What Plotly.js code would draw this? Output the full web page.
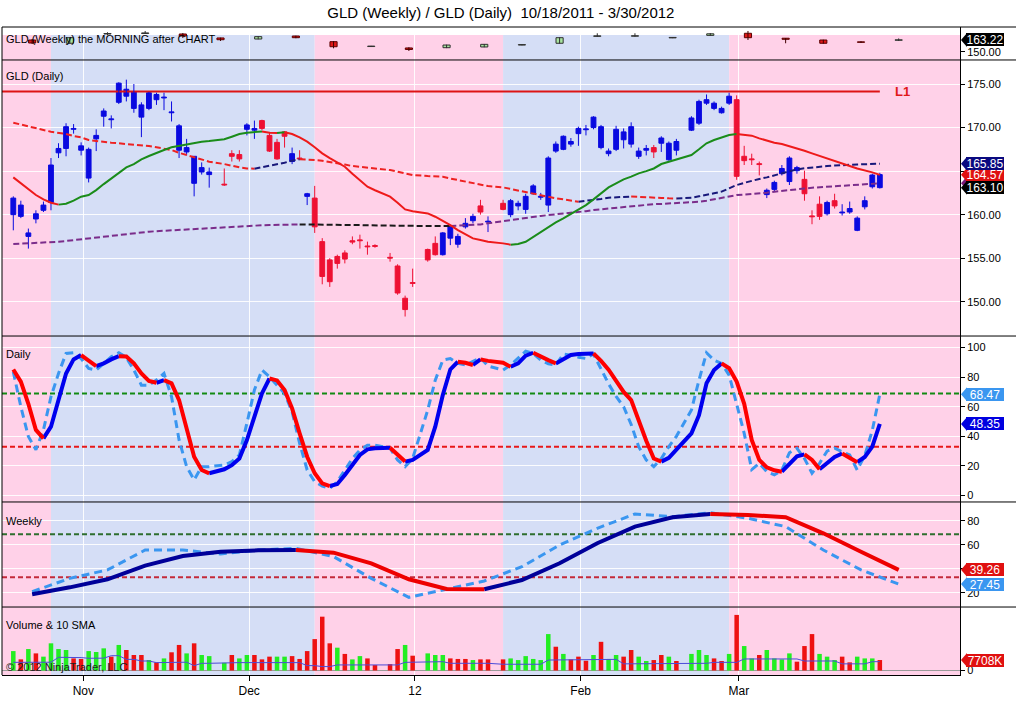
<!DOCTYPE html>
<html>
<head>
<meta charset="utf-8">
<script src="https://cdn.plot.ly/plotly-3.0.1.min.js"></script>
<style>
    html, body { margin: 0; padding: 0; background: #ffffff; }
    #chart { width: 1016px; height: 720px; }
</style>
</head>
<body>
<div id="chart"></div>
<script>
// ==== DATA ==================================================================

// Trading days shown on the chart, by month (holidays are left out).
const oct2011 = [18, 19, 20, 21, 24, 25, 26, 27, 28, 31];
const nov2011 = [1, 2, 3, 4, 7, 8, 9, 10, 11, 14, 15, 16, 17, 18, 21, 22, 23, 25, 28, 29, 30];
const dec2011 = [1, 2, 5, 6, 7, 8, 9, 12, 13, 14, 15, 16, 19, 20, 21, 22, 23, 27, 28, 29, 30];
const jan2012 = [3, 4, 5, 6, 9, 10, 11, 12, 13, 17, 18, 19, 20, 23, 24, 25, 26, 27, 30, 31];
const feb2012 = [1, 2, 3, 6, 7, 8, 9, 10, 13, 14, 15, 16, 17, 21, 22, 23, 24, 27, 28, 29];
const mar2012 = [1, 2, 5, 6, 7, 8, 9, 12, 13, 14, 15, 16, 19, 20, 21, 22, 23, 26, 27];

// Daily GLD candles (one line per month).
const open = [
    160.0, 159.8, 157.5, 159.5, 160.5, 161.4, 167.1, 167.6, 169.8, 167.4,
    164.2, 168.7, 171.3, 170.9, 172.9, 173.6, 172.2, 171.2, 172.2, 173.2, 173.4, 171.7, 167.4, 167.2, 163.6, 164.9, 164.6, 163.5, 167.0, 166.9, 169.8,
    169.7, 170.8, 169.1, 168.3, 169.5, 166.1, 166.5, 162.1, 161.9, 156.9, 154.8, 155.2, 155.6, 157.0, 157.1, 156.35, 156.4, 155.1, 154.1, 150.4, 152.15,
    156.0, 156.7, 155.4, 157.3, 156.6, 158.6, 159.3, 161.0, 159.15, 161.3, 160.0, 161.0, 160.6, 162.4, 162.0, 161.1, 167.3, 167.5, 168.1, 169.3,
    169.75, 170.0, 167.7, 167.0, 167.5, 168.6, 168.1, 166.7, 167.4, 167.7, 168.2, 166.3, 167.4, 169.7, 170.5, 172.8, 172.2, 171.7, 172.8, 173.2,
    166.7, 166.4, 165.8, 162.3, 162.9, 164.7, 163.8, 165.05, 164.05, 159.8, 161.2, 160.1, 161.6, 160.2, 160.3, 158.2, 160.9, 163.2, 163.1,
];
const high = [
    162.1, 161.6, 158.4, 160.5, 161.5, 166.5, 168.2, 170.5, 170.4, 168.3,
    167.7, 169.8, 172.2, 171.4, 175.2, 175.5, 175.0, 172.9, 174.1, 174.0, 174.0, 173.0, 170.4, 168.7, 166.7, 166.0, 165.4, 165.3, 167.4, 167.4, 170.5,
    170.8, 170.9, 169.5, 168.7, 169.6, 167.7, 167.4, 162.5, 163.3, 157.3, 155.0, 155.4, 155.9, 157.5, 157.7, 156.9, 156.6, 155.6, 154.3, 150.7, 153.8,
    156.1, 157.5, 158.0, 158.8, 157.8, 159.6, 160.1, 161.7, 159.8, 161.7, 161.8, 161.6, 162.4, 163.5, 162.5, 166.7, 168.4, 169.1, 168.8, 170.1,
    170.3, 171.3, 170.3, 167.6, 170.2, 169.9, 170.6, 167.7, 168.0, 168.0, 169.0, 168.4, 168.7, 171.3, 173.2, 173.8, 173.0, 172.4, 174.0, 173.7,
    167.9, 167.0, 166.1, 163.0, 163.9, 165.7, 166.7, 165.6, 165.05, 160.5, 162.1, 161.6, 162.4, 161.2, 161.5, 159.8, 162.1, 164.7, 164.8,
];
const low = [
    158.2, 159.6, 156.1, 159.0, 160.3, 160.5, 166.5, 166.7, 169.3, 166.8,
    163.7, 167.3, 170.1, 169.9, 172.7, 173.0, 171.7, 168.9, 172.0, 172.6, 172.0, 170.7, 166.5, 166.8, 162.1, 164.6, 163.1, 163.3, 166.1, 166.1, 169.1,
    168.7, 169.7, 167.2, 166.3, 167.7, 165.8, 166.3, 161.1, 157.9, 152.0, 151.7, 153.8, 154.4, 156.6, 156.1, 155.4, 156.2, 154.6, 150.8, 148.3, 151.7,
    154.6, 155.3, 155.3, 156.5, 156.2, 158.4, 159.0, 160.0, 158.0, 160.5, 159.7, 160.5, 160.1, 162.3, 161.7, 160.3, 167.1, 167.4, 167.8, 167.9,
    169.1, 169.8, 167.5, 166.7, 167.3, 167.6, 167.7, 166.4, 166.8, 166.5, 167.2, 166.2, 166.8, 169.6, 170.3, 172.6, 172.0, 171.6, 172.6, 164.0,
    165.7, 165.7, 164.5, 161.9, 162.6, 164.5, 163.4, 164.7, 161.6, 158.9, 159.4, 159.9, 160.7, 159.9, 160.1, 158.1, 160.6, 163.0, 163.0,
];
const close = [
    161.9, 161.1, 157.9, 160.1, 161.1, 165.7, 167.6, 170.1, 169.9, 167.9,
    167.5, 169.1, 171.9, 171.0, 175.1, 174.4, 174.1, 172.6, 174.0, 173.8, 173.5, 171.8, 170.2, 167.7, 166.7, 165.4, 164.9, 163.4, 166.7, 166.4, 170.3,
    169.9, 169.9, 167.3, 166.4, 169.0, 167.0, 166.4, 162.4, 158.6, 152.9, 152.3, 154.4, 154.9, 156.85, 157.0, 156.3, 156.35, 155.0, 151.0, 149.1, 152.1,
    154.8, 155.4, 157.9, 158.6, 157.5, 159.0, 159.8, 160.3, 159.2, 160.6, 161.6, 161.3, 162.1, 163.3, 162.1, 166.5, 168.1, 169.0, 168.4, 169.9,
    169.8, 171.2, 170.1, 167.3, 169.8, 169.5, 170.1, 167.3, 167.6, 167.2, 168.8, 168.2, 168.4, 171.1, 173.0, 173.2, 172.8, 172.2, 173.6, 164.4,
    166.2, 166.3, 165.75, 162.8, 163.7, 165.3, 166.5, 165.4, 162.4, 159.75, 159.8, 161.4, 161.0, 160.25, 160.7, 159.6, 161.6, 164.55, 164.6,
];

// Moving averages on the daily panel.
const maFast = [
    164.28, 163.6, 163.0, 162.25, 161.75, 161.37, 161.15, 161.25, 161.6, 162.06,
    162.25, 162.82, 163.51, 164.17, 164.74, 165.43, 165.81, 166.35, 166.73, 167.1, 167.42, 167.73, 167.88, 168.1, 168.26, 168.38, 168.45, 168.65, 168.95, 169.26, 169.41,
    169.49, 169.55, 169.41, 169.38, 169.45, 169.26, 168.87, 168.38, 167.73, 167.04, 166.5, 166.0, 165.5, 164.7, 164.0, 163.2, 162.8, 162.06, 161.37, 160.6, 160.4,
    160.14, 159.76, 159.3, 158.8, 158.23, 157.77, 157.27, 157.08, 156.89, 156.7, 156.55, 156.62, 156.89, 157.46, 158.04, 158.61, 159.1, 159.57, 160.07, 160.6,
    161.1, 161.75, 162.44, 163.13, 163.59, 164.05, 164.36, 164.74, 165.0, 165.3, 165.81, 166.08, 166.35, 166.84, 167.5, 168.19, 168.57, 168.87, 169.14, 169.26,
    169.14, 169.07, 168.76, 168.49, 168.26, 168.11, 167.88, 167.6, 167.34, 167.04, 166.73, 166.46, 166.2, 165.89, 165.58, 165.3, 165.1, 164.85, 164.57,
];
const maMid = [
    170.56, 170.37, 170.18, 169.91, 169.72, 169.52, 169.41, 169.26, 169.03, 168.87,
    168.57, 168.45, 168.38, 168.26, 168.19, 168.11, 168.05, 168.0, 167.88, 167.73, 167.6, 167.42, 167.1, 166.84, 166.58, 166.27, 166.08, 165.81, 165.58, 165.43, 165.3,
    165.28, 165.43, 165.58, 165.81, 165.96, 166.2, 166.35, 166.33, 166.27, 166.2, 166.08, 165.89, 165.75, 165.58, 165.5, 165.43, 165.3, 165.12, 164.93, 164.74, 164.55,
    164.43, 164.4, 164.36, 164.15, 163.97, 163.82, 163.67, 163.48, 163.28, 163.13, 162.95, 162.75, 162.56, 162.37, 162.18, 161.98, 161.87, 161.75, 161.62, 161.49,
    161.58, 161.68, 161.8, 161.94, 162.0, 162.06, 162.08, 162.06, 161.98, 161.96, 161.92, 161.87, 161.85, 161.94, 162.1, 162.25, 162.45, 162.64, 163.0, 163.4,
    163.65, 163.9, 164.1, 164.28, 164.5, 164.74, 164.97, 165.2, 165.32, 165.43, 165.5, 165.58, 165.64, 165.7, 165.73, 165.76, 165.79, 165.82, 165.85,
];
const maSlow = [
    156.62, 156.66, 156.7, 156.74, 156.77, 156.83, 156.89, 156.98, 157.08, 157.17,
    157.27, 157.36, 157.46, 157.56, 157.66, 157.75, 157.85, 157.95, 158.04, 158.1, 158.15, 158.23, 158.31, 158.36, 158.42, 158.46, 158.5, 158.61, 158.65, 158.69, 158.73,
    158.77, 158.78, 158.8, 158.82, 158.84, 158.86, 158.88, 158.88, 158.88, 158.88, 158.87, 158.86, 158.84, 158.82, 158.8, 158.78, 158.76, 158.72, 158.7, 158.69, 158.69,
    158.69, 158.69, 158.69, 158.69, 158.73, 158.77, 158.8, 158.88, 159.0, 159.26, 159.38, 159.5, 159.63, 159.76, 159.85, 159.95, 160.04, 160.14, 160.2, 160.26,
    160.4, 160.53, 160.62, 160.72, 160.82, 160.91, 161.0, 161.1, 161.18, 161.2, 161.23, 161.27, 161.32, 161.37, 161.48, 161.6, 161.77, 161.94, 162.1, 162.25,
    162.31, 162.37, 162.45, 162.52, 162.64, 162.75, 162.82, 162.9, 163.0, 163.09, 163.15, 163.21, 163.27, 163.32, 163.38, 163.44, 163.5, 163.55, 163.6,
];
const levelL1 = 174.14;

// Daily stochastics: slow line (solid) and fast line (dashed).
const stochSlow = [
    85.2, 77, 62, 44.3, 38.6, 46.5, 64.5, 82.5, 92, 94.9,
    91, 87.5, 89.3, 92, 94.2, 94, 89.3, 82.5, 77.5, 76.2, 78, 75.8, 64.5, 44.3, 26.2, 17.2, 15, 17.7, 20.5, 25, 37.5,
    53.2, 69, 79.1, 77.8, 71.3, 58.9, 42, 26.2, 15, 8.2, 6.4, 7.7, 13.9, 20.6, 27.4, 31.2, 31.9, 32.2, 27.4, 22.9, 24,
    30.8, 46.5, 67.9, 85.2, 90.4, 89.7, 88.2, 92, 91, 89.7, 87, 89.3, 94.5, 96.5, 93.8, 91.5, 89.3, 92, 95.0, 95.6,
    95.8, 96, 91, 85, 77, 70, 64.5, 50, 37, 25, 22.9, 25.5, 31, 42, 54.3, 75.8, 84.8, 89.3, 86, 77,
    62, 37.5, 24, 19, 17, 16.1, 21.5, 26.5, 27.8, 24, 17.7, 21.7, 26, 28.4, 25.5, 22.5, 26, 33, 48.35,
];
const stochFast = [
    83.6, 60, 39.9, 30.9, 44.3, 66.8, 82.5, 96, 96.5, 92.6,
    85.9, 84.8, 89.3, 93.8, 96.5, 93.3, 84.8, 74.6, 74.6, 78, 82.5, 66.8, 37.5, 19.5, 10.5, 19.5, 19.5, 20.6, 22.9, 27.4, 48.8,
    71.3, 84.8, 80.3, 74.6, 69, 56.6, 35.3, 17.2, 9.3, 6.4, 4.9, 9.3, 17.2, 25, 30.6, 34, 34, 31.9, 24, 19.5, 25,
    57.8, 78, 91.5, 92.6, 89.3, 88.2, 90.4, 93, 87.5, 84.8, 88.2, 93, 97.5, 96, 91.5, 89, 88.2, 95.6, 94.9, 93.5,
    92.6, 95.6, 86, 75.5, 67, 60, 48, 33, 24, 19.5, 25, 33, 40, 57.8, 78, 96.5, 91.5, 89.3, 81.4, 62.2,
    42, 17.5, 21.7, 16.1, 13.9, 17.2, 28.9, 31.9, 25, 15, 21.7, 30, 32, 29.6, 27.4, 17.2, 27, 44, 68.47,
];
const stochUpper = 69;
const stochLower = 33;

// Daily volume in millions of shares, up/down flag, and its 10 SMA.
const volume = [
    14.3, 8.2, 15.8, 12.6, 10.2, 20.0, 15.8, 15.1, 8.9, 8.5,
    14.3, 13.6, 16.3, 10.2, 18.8, 15.1, 11.4, 11.4, 7.7, 6.0, 8.9, 13.4, 18.8, 12.6, 20.0, 11.4, 10.6, 5.7, 11.4, 8.9, 11.4,
    11.4, 8.2, 10.2, 10.2, 10.2, 10.6, 8.5, 14.3, 23.1, 39.6, 20.0, 16.8, 12.2, 8.2, 10.6, 8.9, 4.0, 4.7, 15.8, 18.8, 10.9,
    12.6, 11.4, 11.4, 8.9, 8.5, 8.5, 7.7, 8.2, 8.2, 8.2, 8.9, 7.7, 10.6, 8.5, 7.7, 26.8, 17.5, 12.2, 8.2, 10.2,
    7.2, 11.4, 21.1, 8.5, 11.4, 10.2, 15.1, 10.2, 7.0, 7.7, 11.4, 10.2, 7.0, 12.2, 15.1, 11.4, 8.9, 7.0, 12.2, 40.9,
    18.0, 8.9, 11.4, 15.1, 8.9, 8.2, 12.6, 6.5, 18.0, 26.8, 12.2, 10.2, 7.7, 10.2, 6.0, 10.2, 8.9, 8.9, 7.708,
];
const volumeUp = [
    1, 0, 1, 0, 1, 1, 1, 1, 0, 0,
    1, 1, 1, 0, 1, 0, 0, 0, 1, 0, 1, 0, 0, 1, 0, 1, 1, 1, 0, 1, 1,
    0, 0, 0, 1, 1, 0, 0, 0, 0, 0, 0, 1, 0, 1, 1, 0, 0, 0, 0, 1, 0,
    1, 1, 1, 0, 0, 0, 1, 0, 0, 0, 1, 1, 1, 1, 1, 1, 0, 1, 0, 0,
    0, 1, 0, 1, 1, 0, 0, 1, 1, 0, 0, 1, 0, 1, 1, 1, 0, 0, 1, 0,
    1, 1, 0, 1, 1, 1, 1, 0, 0, 0, 1, 1, 1, 0, 0, 1, 1, 1, 0,
];
const volumeSma = [
    6.0, 6.0, 6.0, 6.0, 6.0, 6.1, 9.7, 9.7, 9.6, 9.5,
    9.0, 9.0, 9.1, 10.9, 10.9, 8.2, 8.2, 7.0, 7.0, 5.8, 5.8, 5.8, 6.0, 6.1, 3.6, 5.3, 5.3, 5.8, 5.8, 5.8, 5.8,
    5.8, 5.8, 5.8, 5.8, 5.8, 5.8, 5.8, 3.6, 3.6, 2.9, 2.9, 4.1, 4.1, 4.1, 4.1, 4.1, 4.1, 4.1, 4.1, 6.0, 6.0,
    6.0, 6.0, 6.5, 5.3, 5.3, 5.3, 5.3, 5.3, 5.3, 4.6, 4.6, 4.6, 4.6, 4.6, 4.6, 7.7, 7.7, 8.2, 8.2, 8.2,
    8.2, 8.2, 8.2, 8.2, 8.2, 4.9, 4.9, 4.9, 4.9, 4.9, 4.9, 4.9, 4.9, 5.3, 5.3, 5.3, 6.0, 6.0, 6.0, 6.0,
    8.5, 8.5, 8.5, 8.5, 8.5, 8.5, 8.5, 8.5, 7.0, 7.0, 7.0, 7.0, 7.0, 4.9, 4.9, 4.9, 4.9, 6.5, 6.5,
];

// Weekly GLD candles and weekly stochastics, one value per week (week ending Friday).
const weekEnds = [
    "2011-10-21", "2011-10-28", "2011-11-04", "2011-11-11", "2011-11-18", "2011-11-25",
    "2011-12-02", "2011-12-09", "2011-12-16", "2011-12-23", "2011-12-30", "2012-01-06",
    "2012-01-13", "2012-01-20", "2012-01-27", "2012-02-03", "2012-02-10", "2012-02-17",
    "2012-02-24", "2012-03-02", "2012-03-09", "2012-03-16", "2012-03-23", "2012-03-30",
];
const weekOpen = [163.2, 159.5, 170.0, 170.5, 170.0, 165.5, 164.3, 167.7, 161.3, 155.8, 154.2, 154.5, 155.3, 157.5, 159.5, 167.3, 167.5, 165.6, 168.4, 170.8, 165.2, 163.2, 160.8, 162.9];
const weekHigh = [164.3, 166.5, 172.0, 173.4, 171.1, 165.8, 167.5, 168.0, 162.0, 156.5, 155.0, 157.9, 158.7, 158.0, 166.2, 170.8, 170.8, 166.5, 171.0, 173.4, 165.3, 163.5, 161.8, 165.0];
const weekLow = [158.7, 159.0, 168.5, 170.0, 165.5, 162.1, 164.0, 165.2, 153.8, 155.3, 150.8, 154.0, 155.0, 157.2, 159.2, 166.8, 167.0, 165.3, 168.0, 163.2, 159.5, 159.0, 159.8, 162.1];
const weekClose = [159.8, 165.8, 170.5, 171.2, 167.7, 163.5, 167.0, 165.8, 155.6, 155.9, 152.5, 157.5, 158.3, 157.7, 165.8, 167.9, 168.0, 166.0, 170.2, 165.8, 164.0, 159.5, 160.6, 163.22];
const weekStochSlow = [18.9, 24.7, 31.4, 42.8, 50.8, 54.4, 55.5, 55.9, 53.6, 44.7, 31.4, 23.4, 23.1, 30.8, 44.7, 61.4, 75.3, 83.1, 85.8, 85.0, 83.1, 69.7, 54.4, 39.26];
const weekStochFast = [21.1, 32.2, 39.2, 55.8, 55.8, 52.5, 55.8, 57.2, 50.3, 32.2, 16.4, 23.1, 30.0, 41.9, 60.0, 73.9, 85.8, 83.6, 86.9, 82.2, 75.3, 55.8, 39.2, 27.45];

// Month labels: NinjaTrader puts them right after the month's last bar.
const monthEnds = ["2011-10-31", "2011-11-30", "2011-12-30", "2012-01-31", "2012-02-29"];
const monthLabels = ["Nov", "Dec", "12", "Feb", "Mar"];

// Last-value markers on the price scale.
const weeklyLast = [163.22];
const dailyLast = [163.60, 164.57, 165.85, 163.10];
const stochLast = [68.47, 48.35];
const weekStochLast = [39.26, 27.45];
const volumeLast = [7.708];

// ==== HELPERS ===============================================================

const FONT = "Liberation Sans, Arial, sans-serif";

function monthDates(year, month, list) {
    const mm = String(month).padStart(2, "0");
    return list.map((d) => `${year}-${mm}-${String(d).padStart(2, "0")}`);
}

// Number of weekdays since 10/18/2011: the chart keeps an empty slot for holidays.
const ORIGIN = Date.UTC(2011, 9, 18);
function weekdayIndex(dateStr) {
    const [y, m, d] = dateStr.split("-").map(Number);
    const target = Date.UTC(y, m - 1, d);
    let idx = 0;
    for (let t = ORIGIN + 86400000; t <= target; t += 86400000) {
        const wd = new Date(t).getUTCDay();
        if (wd !== 0 && wd !== 6) idx++;
    }
    return idx;
}

// Candles as a wick trace plus a body bar trace for up and for down bars.
function candleTraces(xs, o, h, l, c, yaxis, bodyWidth, up, down) {
    const traces = [];
    for (const [style, isUp] of [[up, true], [down, false]]) {
        const bx = [], base = [], size = [], wx = [], wy = [];
        for (let i = 0; i < xs.length; i++) {
            if ((c[i] > o[i]) !== isUp) continue;
            bx.push(xs[i]);
            base.push(Math.min(o[i], c[i]));
            size.push(Math.max(Math.abs(c[i] - o[i]), style.minBody));
            wx.push(xs[i], xs[i], null);
            wy.push(l[i], h[i], null);
        }
        traces.push({
            type: "scatter", mode: "lines", x: wx, y: wy, yaxis: yaxis,
            line: { color: style.wick, width: 1 }, hoverinfo: "skip",
        });
        traces.push({
            type: "bar", x: bx, y: size, base: base, width: bodyWidth, yaxis: yaxis,
            marker: { color: style.fill, line: { color: style.edge, width: 1 } },
            hoverinfo: "skip",
        });
    }
    return traces;
}

// A line whose colour follows its slope: one colour rising, another falling.
function slopeLine(xs, ys, yaxis, upColor, downColor, width, dash) {
    const runs = { up: { x: [], y: [] }, down: { x: [], y: [] } };
    let prev = null;
    for (let i = 1; i < ys.length; i++) {
        const dir = ys[i] > ys[i - 1] ? "up" : "down";
        const run = runs[dir];
        if (dir !== prev) {
            if (run.x.length) { run.x.push(null); run.y.push(null); }
            run.x.push(xs[i - 1]); run.y.push(ys[i - 1]);
        }
        run.x.push(xs[i]); run.y.push(ys[i]);
        prev = dir;
    }
    return ["up", "down"].map((dir) => ({
        type: "scatter", mode: "lines", x: runs[dir].x, y: runs[dir].y, yaxis: yaxis,
        line: { color: dir === "up" ? upColor : downColor, width: width, dash: dash || "solid" },
        connectgaps: false, hoverinfo: "skip",
    }));
}

// ==== BUILD ================================================================

const days = [
    ...monthDates(2011, 10, oct2011), ...monthDates(2011, 11, nov2011),
    ...monthDates(2011, 12, dec2011), ...monthDates(2012, 1, jan2012),
    ...monthDates(2012, 2, feb2012), ...monthDates(2012, 3, mar2012),
];
const xs = days.map(weekdayIndex);
const weekX = weekEnds.map((d) => weekdayIndex(d) - 0.5);
const xRange = [-1.5, 125.64];
const lastX = xs[xs.length - 1];

const traces = [];

// Weekly strip.
traces.push(...candleTraces(weekX, weekOpen, weekHigh, weekLow, weekClose, "y", 0.95,
    { fill: "#a8e4a0", edge: "#303030", wick: "#303030", minBody: 0.5 },
    { fill: "#e01818", edge: "#5a0000", wick: "#400000", minBody: 0.5 }));

// Daily price panel.
traces.push({
    type: "scatter", mode: "lines", x: [xRange[0], lastX], y: [levelL1, levelL1], yaxis: "y2",
    line: { color: "#dd1414", width: 2 }, hoverinfo: "skip",
});
traces.push(...candleTraces(xs, open, high, low, close, "y2", 0.64,
    { fill: "#0a0ae0", edge: "#0a0ae0", wick: "#0a0ae0", minBody: 0.1 },
    { fill: "#ee1133", edge: "#ee1133", wick: "#ee1133", minBody: 0.1 }));
traces.push(...slopeLine(xs, maSlow, "y2", "#7b2d8b", "#1a1a1a", 2, "6px,3px"));
traces.push(...slopeLine(xs, maMid, "y2", "#18187a", "#ee2222", 2, "6px,3px"));
traces.push(...slopeLine(xs, maFast, "y2", "#1a8c1a", "#ee1a1a", 2));

// Daily stochastics.
traces.push({
    type: "scatter", mode: "lines", x: xRange, y: [stochUpper, stochUpper], yaxis: "y3",
    line: { color: "#128a12", width: 2, dash: "5px,3px" }, hoverinfo: "skip",
});
traces.push({
    type: "scatter", mode: "lines", x: xRange, y: [stochLower, stochLower], yaxis: "y3",
    line: { color: "#e81818", width: 2, dash: "5px,3px" }, hoverinfo: "skip",
});
traces.push({
    type: "scatter", mode: "lines", x: xs, y: stochFast, yaxis: "y3",
    line: { color: "#3a96f0", width: 3, dash: "8px,5px" }, hoverinfo: "skip",
});
traces.push(...slopeLine(xs, stochSlow, "y3", "#0000ee", "#ff0000", 4));

// Weekly stochastics.
traces.push({
    type: "scatter", mode: "lines", x: xRange, y: [stochUpper, stochUpper], yaxis: "y4",
    line: { color: "#2e6e2e", width: 2, dash: "5px,3px" }, hoverinfo: "skip",
});
traces.push({
    type: "scatter", mode: "lines", x: xRange, y: [stochLower, stochLower], yaxis: "y4",
    line: { color: "#c42a3a", width: 2, dash: "5px,3px" }, hoverinfo: "skip",
});
traces.push({
    type: "scatter", mode: "lines", x: weekX, y: weekStochFast, yaxis: "y4",
    line: { color: "#3a96f0", width: 3, dash: "8px,5px" }, hoverinfo: "skip",
});
traces.push(...slopeLine(weekX, weekStochSlow, "y4", "#000099", "#ee0000", 4));

// Volume and its SMA.
for (const up of [1, 0]) {
    const idx = volume.map((_, i) => i).filter((i) => volumeUp[i] === up);
    traces.push({
        type: "bar", x: idx.map((i) => xs[i]), y: idx.map((i) => volume[i]), width: 0.6,
        yaxis: "y5", marker: { color: up ? "#22ee22" : "#ee1111", line: { width: 0 } },
        hoverinfo: "skip",
    });
}
traces.push({
    type: "scatter", mode: "lines", x: xs, y: volumeSma, yaxis: "y5",
    line: { color: "#4b4bd8", width: 1 }, hoverinfo: "skip",
});

// ==== SHAPES ================================================================

// Background: blue while the weekly slow stochastic rises, pink otherwise.
const shapes = [];
const shadeTop = (675 - 35) / 648;
const spans = [];
weekX.forEach((wx, k) => {
    const rising = k > 0 && weekStochSlow[k] > weekStochSlow[k - 1];
    const x0 = k === 0 ? xRange[0] : wx - 2.5;
    const x1 = k === weekX.length - 1 ? xRange[1] : wx + 2.5;
    const last = spans[spans.length - 1];
    if (last && last.rising === rising) last.x1 = x1;
    else spans.push({ x0: x0, x1: x1, rising: rising });
});
for (const s of spans) {
    shapes.push({
        type: "rect", xref: "x", yref: "paper", x0: s.x0, x1: s.x1, y0: 0, y1: shadeTop,
        fillcolor: s.rising ? "#d5def6" : "#ffd1e8", line: { width: 0 }, layer: "below",
    });
}

// Panel borders.
const fullRight = (1016 - 2) / 958;
for (const y of [1, 0.9491, 0.5231, 0.2670, 0.1049]) {
    shapes.push({
        type: "line", xref: "paper", yref: "paper", x0: 0, x1: fullRight, y0: y, y1: y,
        line: { color: "#000000", width: 1 }, layer: "above",
    });
}
shapes.push({
    type: "line", xref: "paper", yref: "paper", x0: 0, x1: 0, y0: 0, y1: 1,
    line: { color: "#000000", width: 1 }, layer: "above",
});

// ==== ANNOTATIONS ==========================================================

const annotations = [];

function panelLabel(text, yref, shift) {
    annotations.push({
        xref: "paper", x: 0, xanchor: "left", xshift: 2,
        yref: yref, y: 1, yanchor: "middle", yshift: shift,
        text: text, showarrow: false, font: { family: FONT, size: 11, color: "#000000" },
    });
}
panelLabel("GLD (Weekly) the MORNING after CHART", "y domain", -12);
panelLabel("GLD (Daily)", "y2 domain", -16);
panelLabel("Daily", "y3 domain", -18);
panelLabel("Weekly", "y4 domain", -19);
panelLabel("Volume &amp; 10 SMA", "y5 domain", -18);
annotations.push({
    xref: "paper", x: 0, xanchor: "left", xshift: 2, yref: "y5 domain", y: 0, yanchor: "middle", yshift: 8,
    text: "© 2012 NinjaTrader, LLC", showarrow: false, font: { family: FONT, size: 11, color: "#202020" },
});
annotations.push({
    xref: "x", x: lastX + 3, xanchor: "center", yref: "y2", y: levelL1, yanchor: "middle",
    text: "<b>L1</b>", showarrow: false, font: { family: FONT, size: 13, color: "#e01818" },
});

// Value tags on the right scale: a box with the number and a small notch.
function tag(value, yref, text, color) {
    shapes.push({
        type: "path", xref: "paper", xsizemode: "pixel", xanchor: 1,
        yref: yref, ysizemode: "pixel", yanchor: value,
        path: "M 1 0 L 7 -7 L 7 7 Z", fillcolor: color, line: { width: 0 }, layer: "above",
    });
    annotations.push({
        xref: "paper", x: 1, xanchor: "left", xshift: 6, yref: yref, y: value, yanchor: "middle",
        text: text, showarrow: false, bgcolor: color, width: 38, height: 13, borderpad: 0,
        borderwidth: 0, font: { family: FONT, size: 12, color: "#ffffff" },
    });
}
tag(weeklyLast[0], "y", weeklyLast[0].toFixed(2), "#000000");
const dailyColors = ["#7a1a7a", "#e01010", "#0a0a80", "#000000"];
dailyLast.forEach((v, i) => tag(v, "y2", v.toFixed(2), dailyColors[i]));
tag(stochLast[0], "y3", stochLast[0].toFixed(2), "#3a96f0");
tag(stochLast[1], "y3", stochLast[1].toFixed(2), "#0000e0");
tag(weekStochLast[0], "y4", weekStochLast[0].toFixed(2), "#e01010");
tag(weekStochLast[1], "y4", weekStochLast[1].toFixed(2), "#3a96f0");
tag(volumeLast[0], "y5", Math.round(volumeLast[0] * 1000) + "K", "#e01010");

// ==== LAYOUT ================================================================

function rightAxis(domain, range, tickvals, ticktext) {
    return {
        domain: domain, range: range, side: "right", anchor: "x",
        tickvals: tickvals, ticktext: ticktext, ticks: "outside", ticklen: 4,
        tickcolor: "#000000", showline: true, linecolor: "#000000", linewidth: 1,
        showgrid: true, gridcolor: "rgba(255,255,255,0.9)", zeroline: false,
        tickfont: { family: FONT, size: 11, color: "#000000" }, fixedrange: true,
    };
}
// Labels that sit under a value tag are left blank, as in the original.
const priceTicks = [150, 155, 160, 165, 170, 175];
const priceText = priceTicks.map((v) => (v === 165 ? "" : v.toFixed(2)));
const weekStochTicks = [20, 40, 60, 80];
const weekStochText = weekStochTicks.map((v) => (v === 40 ? "" : String(v)));

const layout = {
    width: 1016, height: 720, autosize: false,
    margin: { l: 2, r: 56, t: 27, b: 45, pad: 0 },
    paper_bgcolor: "#ffffff", plot_bgcolor: "rgba(0,0,0,0)",
    showlegend: false, hovermode: false, barmode: "overlay",
    title: {
        text: "GLD (Weekly) / GLD (Daily)  10/18/2011 - 3/30/2012",
        x: 0.493, xanchor: "center", y: 0.982, yanchor: "middle",
        font: { family: FONT, size: 15, color: "#000000" },
    },
    xaxis: {
        domain: [0, 1], range: xRange, anchor: "y5",
        tickvals: monthEnds.map((d) => weekdayIndex(d) + 0.3), ticktext: monthLabels,
        ticks: "outside", ticklen: 5, tickcolor: "#000000",
        showline: true, linecolor: "#000000", linewidth: 1,
        showgrid: true, gridcolor: "rgba(255,255,255,0.9)", zeroline: false,
        tickfont: { family: FONT, size: 12, color: "#000000" }, fixedrange: true,
    },
    yaxis: Object.assign(rightAxis([0.9491, 1], [140.6, 177.9], [150], ["150.00"]), { showgrid: false }),
    yaxis2: rightAxis([0.5231, 0.9491], [146.06, 177.76], priceTicks, priceText),
    yaxis3: rightAxis([0.2670, 0.5231], [-4.4, 107.8], [0, 20, 40, 60, 80, 100]),
    yaxis4: rightAxis([0.1049, 0.2670], [8.3, 95.8], weekStochTicks, weekStochText),
    yaxis5: Object.assign(rightAxis([0, 0.1049], [-3.3, 46.7], [0], ["0"]), {
        showgrid: false, zeroline: true, zerolinecolor: "#9a9a9a", zerolinewidth: 1,
    }),
    shapes: shapes,
    annotations: annotations,
};

Plotly.newPlot("chart", traces, layout, { staticPlot: true, displayModeBar: false });
</script>
</body>
</html>
